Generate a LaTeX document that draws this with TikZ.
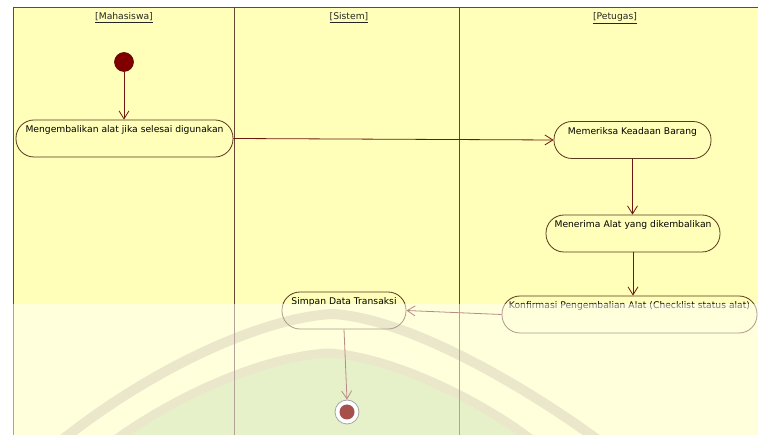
\documentclass[tikz,border=0pt]{standalone}
\usepackage{fontspec}
\setmainfont{DejaVu Sans}
\usetikzlibrary{arrows.meta}
\definecolor{lanebg}{RGB}{255,255,185}
\definecolor{laneline}{RGB}{105,70,45}
\definecolor{flow}{RGB}{110,25,15}
\definecolor{actline}{RGB}{90,55,30}
\definecolor{startred}{RGB}{128,0,0}
\definecolor{enddot}{RGB}{165,80,75}
\definecolor{markgreen}{RGB}{205,227,150}
\definecolor{marktan}{RGB}{215,207,150}
\tikzset{
  lane/.style={draw=laneline, line width=0.9pt},
  lanetitle/.style={font=\fontsize{9.2}{11}\selectfont, text=black!85, inner sep=0pt},
  action/.style={draw=actline, line width=0.8pt, rounded corners=18pt,
    font=\fontsize{9.2}{11}\selectfont, text=black, align=center,
    text height=10pt, text depth=21pt, inner ysep=3pt, inner xsep=0pt,
    minimum height=37pt},
  flowline/.style={draw=flow, line width=0.8pt, -{Straight Barb[length=8pt,width=10pt,line width=0.8pt]}},
}
\begin{document}
\begin{tikzpicture}[x=1pt,y=-1pt]
\useasboundingbox (0,0) rectangle (758,435);
% swimlane background
\fill[lanebg] (13,7) rectangle (758,435);

% arch-shaped watermark in the lower band
\begin{scope}
  \clip (0,304) rectangle (758,435);
  \fill[markgreen]
    (115,440) .. controls (185,390) and (270,356) .. (328,353)
    .. controls (390,356) and (480,400) .. (532,440) -- cycle;
  \draw[marktan, line width=10pt]
    (62,440) .. controls (150,370) and (260,318) .. (332,314)
    .. controls (410,318) and (530,390) .. (598,440);
  \draw[marktan, line width=9pt]
    (115,440) .. controls (185,390) and (270,356) .. (328,353)
    .. controls (390,356) and (480,400) .. (532,440);
\end{scope}

% swimlane frame and titles
\draw[lane] (758,7) -- (13,7) -- (13,435);
\draw[lane] (234,7) -- (234,435);
\draw[lane] (459,7) -- (459,435);
\node[lanetitle] (t1) at (124,18) {\underline{[Mahasiswa]}};
\node[lanetitle] (t2) at (349,18) {\underline{[Sistem]}};
\node[lanetitle] (t3) at (615,18) {\underline{[Petugas]}};

% initial state
\node[circle, fill=startred, draw=startred!70!black, line width=0.6pt,
      minimum size=19pt, inner sep=0pt] (start) at (124,62) {};

% activities
\node[action, minimum width=217pt] (a1) at (124.5,138.5) {Mengembalikan alat jika selesai digunakan};
\node[action, minimum width=157pt] (a2) at (632.5,140) {Memeriksa Keadaan Barang};
\node[action, minimum width=174pt] (a3) at (633,233.5) {Menerima Alat yang dikembalikan};
\node[action, minimum width=255pt] (a4) at (629.5,314.5) {Konfirmasi Pengembalian Alat (Checklist status alat)};
\node[action, minimum width=124pt] (a5) at (344,310.5) {Simpan Data Transaksi};

% final state outline
\node[circle, fill=white, draw=black!70, line width=0.8pt,
      minimum size=24pt, inner sep=0pt] (stop) at (347,412) {};

% control flows
\draw[flowline] (start) -- (a1.north -| start);
\draw[flowline] (a1.east) -- (a2.west);
\draw[flowline] (a2.south) -- (a2.south |- a3.north);
\draw[flowline] (a3.south) -- (a3.south |- a4.north);
\draw[flowline] (a4.west) -- (a5.east);
\draw[flowline] (a5.south) -- (stop.north);

% faded lower band
\fill[white, opacity=0.5] (0,304) rectangle (758,435);

% final state dot
\node[circle, fill=enddot, minimum size=15pt, inner sep=0pt] (stopdot) at (stop) {};
\end{tikzpicture}
\end{document}
